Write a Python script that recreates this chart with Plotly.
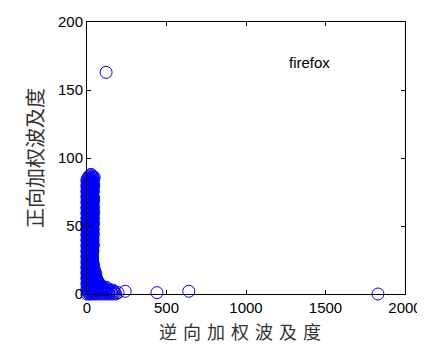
import plotly.graph_objects as go

# Dense cluster near the origin: reverse weighted spread (x), forward weighted spread (y)
cluster_x = [
    25,
    10, 35, 45,
    0, 18, 30, 40,
    5, 15, 25, 38,
    0, 10, 20, 32, 42,
    3, 14, 26, 36,
    0, 8, 20, 30, 40,
    2, 12, 24, 35,
    0, 7, 18, 28, 38,
    4, 14, 25, 34, 42,
    0, 9, 20, 30, 40,
    3, 13, 24, 36,
    0, 8, 18, 29, 40,
    5, 15, 26, 35,
    0, 10, 21, 32, 42,
    3, 13, 24, 36,
    0, 8, 18, 28, 40,
    5, 15, 26, 34,
    0, 10, 20, 31, 41,
    3, 12, 24, 36,
    0, 8, 18, 28, 38,
    5, 15, 25, 35,
    0, 10, 20, 30, 40,
    3, 13, 23, 33,
    0, 8, 18, 28, 38,
    5, 15, 25, 35,
    0, 10, 20, 30, 40,
    3, 13, 23, 33,
    0, 8, 18, 28, 37,
    5, 15, 25, 33,
    0, 10, 20, 30,
    3, 13, 23, 34,
    0, 8, 18, 28, 36,
    5, 15, 25, 35,
    0, 10, 20, 30, 40,
    3, 13, 23, 33, 45,
    0, 8, 18, 28, 40, 50,
    5, 15, 25, 35, 48,
    0, 10, 20, 32, 45, 58,
    3, 13, 25, 38, 52, 65,
    0, 8, 18, 30, 44, 60, 75,
    5, 15, 28, 42, 58, 75, 90,
    0, 10, 22, 36, 52, 70, 90, 110, 130,
    5, 15, 30, 48, 68, 88, 108, 128, 150, 170,
    0, 12, 26, 42, 60, 80, 100, 120, 140, 160, 180,
]
cluster_y = [
    88,
    86, 86, 86,
    84, 84, 84, 84,
    82, 82, 82, 82,
    80, 80, 80, 80, 80,
    78, 78, 78, 78,
    76, 76, 76, 76, 76,
    74, 74, 74, 74,
    72, 72, 72, 72, 72,
    70, 70, 70, 70, 70,
    68, 68, 68, 68, 68,
    66, 66, 66, 66,
    64, 64, 64, 64, 64,
    62, 62, 62, 62,
    60, 60, 60, 60, 60,
    58, 58, 58, 58,
    56, 56, 56, 56, 56,
    54, 54, 54, 54,
    52, 52, 52, 52, 52,
    50, 50, 50, 50,
    48, 48, 48, 48, 48,
    46, 46, 46, 46,
    44, 44, 44, 44, 44,
    42, 42, 42, 42,
    40, 40, 40, 40, 40,
    38, 38, 38, 38,
    36, 36, 36, 36, 36,
    34, 34, 34, 34,
    32, 32, 32, 32, 32,
    30, 30, 30, 30,
    28, 28, 28, 28,
    26, 26, 26, 26,
    24, 24, 24, 24, 24,
    22, 22, 22, 22,
    20, 20, 20, 20, 20,
    18, 18, 18, 18, 18,
    16, 16, 16, 16, 16, 16,
    14, 14, 14, 14, 14,
    12, 12, 12, 12, 12, 12,
    10, 10, 10, 10, 10, 10,
    8, 8, 8, 8, 8, 8, 8,
    6, 6, 6, 6, 6, 6, 6,
    4, 4, 4, 4, 4, 4, 4, 4, 4,
    2, 2, 2, 2, 2, 2, 2, 2, 2, 2,
    0, 0, 0, 0, 0, 0, 0, 0, 0, 0, 0,
]
# More cluster points at intermediate heights
fill_x = [
    15, 32,
    5, 22, 40,
    0, 12, 28, 35,
    8, 20, 36,
    0, 16, 30, 40,
    6, 22, 34,
    0, 14, 28, 38,
    6, 20, 32,
    0, 12, 26, 38,
    5, 18, 35,
    0, 12, 28, 38,
    6, 20, 32,
    0, 12, 24, 38,
    6, 18, 30,
    0, 10, 26, 38,
    6, 20, 32,
    0, 12, 24, 38,
    6, 18, 30,
    0, 10, 26, 38,
    6, 20, 32,
    0, 12, 24, 38,
    6, 18, 30,
    0, 10, 26, 37,
    6, 20, 32,
    0, 12, 24, 36,
    6, 18, 30,
    0, 10, 26, 36,
    6, 20, 32,
    0, 12, 24, 35,
    6, 18, 30,
    0, 10, 26, 35,
    6, 20, 32,
    0, 12, 24, 36,
    6, 18, 30, 42,
    0, 10, 26, 38,
    6, 20, 34, 46,
    0, 12, 28, 42, 55,
    6, 20, 35, 50,
    0, 15, 30, 48, 62,
    6, 22, 40, 56, 70,
    0, 14, 34, 52, 68, 82,
    8, 25, 45, 65, 85, 100, 120,
    0, 20, 40, 60, 80, 100, 120, 140, 160,
    8, 25, 45, 65, 90, 115, 135, 155, 175, 195,
]
fill_y = [
    87, 87,
    85, 85, 85,
    83, 83, 83, 83,
    81, 81, 81,
    79, 79, 79, 79,
    77, 77, 77,
    75, 75, 75, 75,
    73, 73, 73,
    71, 71, 71, 71,
    69, 69, 69,
    67, 67, 67, 67,
    65, 65, 65,
    63, 63, 63, 63,
    61, 61, 61,
    59, 59, 59, 59,
    57, 57, 57,
    55, 55, 55, 55,
    53, 53, 53,
    51, 51, 51, 51,
    49, 49, 49,
    47, 47, 47, 47,
    45, 45, 45,
    43, 43, 43, 43,
    41, 41, 41,
    39, 39, 39, 39,
    37, 37, 37,
    35, 35, 35, 35,
    33, 33, 33,
    31, 31, 31, 31,
    29, 29, 29,
    27, 27, 27, 27,
    25, 25, 25,
    23, 23, 23, 23,
    21, 21, 21, 21,
    19, 19, 19, 19,
    17, 17, 17, 17,
    15, 15, 15, 15, 15,
    13, 13, 13, 13,
    11, 11, 11, 11, 11,
    9, 9, 9, 9, 9,
    7, 7, 7, 7, 7, 7,
    5, 5, 5, 5, 5, 5, 5,
    3, 3, 3, 3, 3, 3, 3, 3, 3,
    1, 1, 1, 1, 1, 1, 1, 1, 1, 1,
]
# Isolated points
outlier_x = [120, 240, 440, 640, 1830]
outlier_y = [163, 2, 1, 2, 0]

x_vals = cluster_x + fill_x + outlier_x
y_vals = cluster_y + fill_y + outlier_y

x_ticks = [0, 500, 1000, 1500, 2000]
y_ticks = [0, 50, 100, 150, 200]

fig = go.Figure()
fig.add_trace(go.Scatter(
    x=x_vals, y=y_vals, mode="markers",
    marker=dict(symbol="circle-open", size=12, color="#0000ff",
                line=dict(width=1, color="#0000ff")),
    showlegend=False, cliponaxis=False,
))

axis_common = dict(
    showline=True, linecolor="black", linewidth=1, mirror="ticks",
    ticks="inside", ticklen=4, tickcolor="black", showgrid=False,
    zeroline=False, automargin=False,
    tickfont=dict(family="Liberation Sans, Arial", size=15, color="black"),
)
fig.update_xaxes(range=[0, 2000], tickvals=x_ticks, **axis_common)
fig.update_yaxes(range=[0, 200], tickvals=y_ticks, **axis_common,
                 title=dict(text="正向加权波及度", standoff=8,
                            font=dict(family="Noto Sans CJK SC", size=20, color="#333333")))

# X axis title placed below the tick labels
fig.add_annotation(xref="paper", yref="paper", x=0.48, y=-0.136, yanchor="middle",
                   text="逆\u2004向\u2004加\u2004权\u2004波\u2004及\u2004度", showarrow=False,
                   font=dict(family="Noto Sans CJK SC", size=18, color="#333333"))

fig.add_annotation(x=1400, y=170, text="firefox", showarrow=False,
                   font=dict(family="Liberation Sans, Arial", size=15, color="black"))

# The page adds an 8 px offset, so the figure is sized to fill the rest of the window
fig.update_layout(
    width=417, height=337,
    margin=dict(l=79, r=20, t=14, b=51),
    paper_bgcolor="white", plot_bgcolor="white",
)
fig.write_html("out.html")
